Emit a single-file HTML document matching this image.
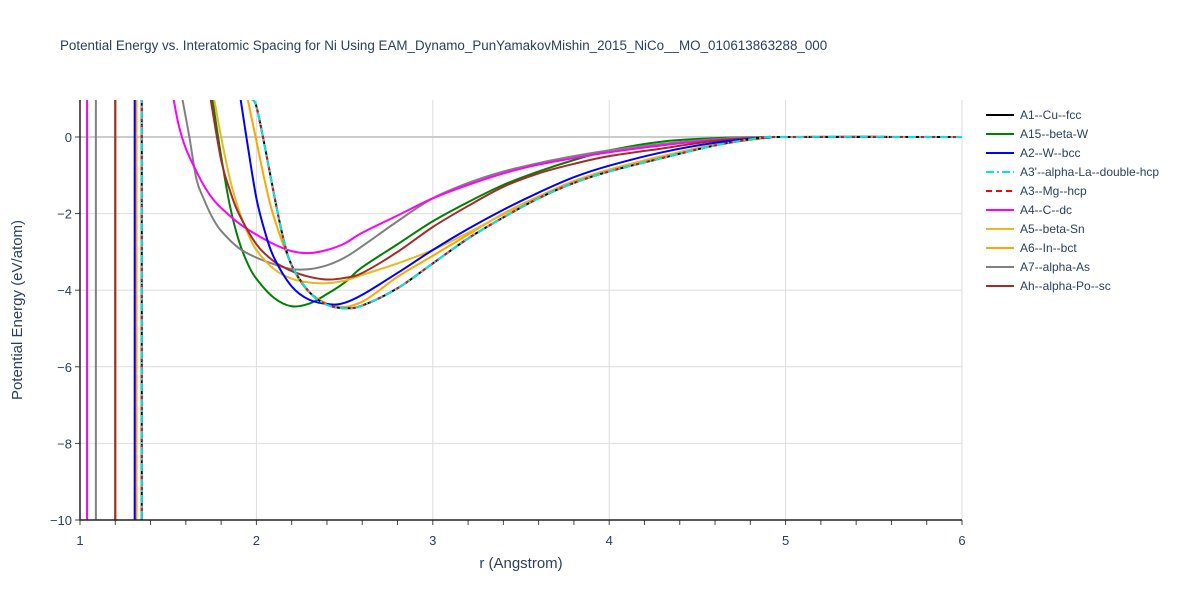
<!DOCTYPE html>
<html><head><meta charset="utf-8"><style>
body{margin:0;background:#fff;font-family:"Liberation Sans",sans-serif;}
svg text{font-family:"Liberation Sans",sans-serif;}
</style></head><body>
<svg id="chart" width="1200" height="600" xmlns="http://www.w3.org/2000/svg">
<rect width="1200" height="600" fill="#fff"/>
<text x="60" y="50" font-size="13.4" fill="#2a3f5f">Potential Energy vs. Interatomic Spacing for Ni Using EAM_Dynamo_PunYamakovMishin_2015_NiCo__MO_010613863288_000</text>
<defs><clipPath id="pc"><rect x="80" y="100" width="882" height="420"/></clipPath></defs>
<g id="grid"></g>
<g id="series" clip-path="url(#pc)"></g>
<g id="axes"></g>
<g id="legend"></g>
<text x="521" y="568" font-size="15" fill="#2a3f5f" text-anchor="middle">r (Angstrom)</text>
<text transform="translate(22,310) rotate(-90)" font-size="15" fill="#2a3f5f" text-anchor="middle">Potential Energy (eV/atom)</text>
</svg>
<script>
const xTicks=[1,2,3,4,5,6];
const yTicks=[0,-2,-4,-6,-8,-10];
const seriesNames=["A1--Cu--fcc","A15--beta-W","A2--W--bcc","A3'--alpha-La--double-hcp","A3--Mg--hcp","A4--C--dc","A5--beta-Sn","A6--In--bct","A7--alpha-As","Ah--alpha-Po--sc"];
const seriesColors=["#000000","#008000","#0000ff","#00e5e5","#ff0000","#ff00ff","#e8b820","#ffa500","#808080","#a52a2a"];
const seriesDash=["","","","8,3,2,3","6,4","","","","",""];
const wallR=[1.35,1.2,1.31,1.35,1.35,1.04,1.2,1.32,1.09,1.2];
const fccR=[1.97,2.0,2.05,2.1,2.15,2.2,2.3,2.4,2.5,2.6,2.8,3.0,3.2,3.4,3.6,3.8,4.0,4.3,4.6,4.85,5,6];
const fccE=[1,0.8,-0.3,-1.5,-2.6,-3.35,-4.05,-4.38,-4.47,-4.4,-3.95,-3.3,-2.65,-2.1,-1.6,-1.2,-0.9,-0.55,-0.22,-0.03,0,0];
const a15R=[1.75,1.8,1.85,1.9,1.95,2.0,2.1,2.2,2.3,2.4,2.5,2.6,2.8,3.0,3.2,3.4,3.6,3.8,4.0,4.3,4.6,5,6];
const a15E=[1,-0.5,-1.8,-2.7,-3.3,-3.7,-4.2,-4.42,-4.35,-4.1,-3.8,-3.4,-2.8,-2.2,-1.7,-1.25,-0.9,-0.6,-0.35,-0.12,-0.03,0,0];
const bccR=[1.91,1.95,2.0,2.05,2.1,2.2,2.3,2.42,2.5,2.6,2.8,3.0,3.2,3.4,3.6,3.8,4.0,4.3,4.6,4.9,5,6];
const bccE=[1,-0.2,-1.6,-2.5,-3.15,-3.9,-4.25,-4.37,-4.33,-4.12,-3.55,-2.95,-2.4,-1.9,-1.45,-1.05,-0.75,-0.4,-0.15,-0.01,0,0];
const dcR=[1.53,1.56,1.6,1.66,1.7,1.75,1.8,1.9,2.0,2.1,2.2,2.3,2.4,2.5,2.6,2.8,3.0,3.2,3.4,3.6,3.8,4.0,4.3,4.6,4.9,5,6];
const dcE=[1,0.3,-0.3,-0.9,-1.25,-1.6,-1.85,-2.25,-2.55,-2.8,-2.98,-3.03,-2.95,-2.78,-2.5,-2.05,-1.6,-1.25,-0.95,-0.72,-0.55,-0.4,-0.22,-0.08,-0.01,0,0];
const snR=[1.76,1.8,1.85,1.9,1.95,2.0,2.1,2.2,2.3,2.4,2.5,2.6,2.8,3.0,3.2,3.4,3.6,3.8,4.0,4.3,4.6,4.9,5,6];
const snE=[1,0,-1.1,-1.9,-2.5,-2.95,-3.45,-3.7,-3.8,-3.82,-3.75,-3.6,-3.3,-2.95,-2.5,-2.02,-1.58,-1.18,-0.87,-0.51,-0.21,-0.02,0,0];
const bctR=[1.95,2.0,2.05,2.1,2.2,2.3,2.45,2.6,2.8,3.0,3.2,3.4,3.6,3.8,4.0,4.3,4.6,4.9,5,6];
const bctE=[1,-0.1,-1.2,-2.1,-3.35,-4.05,-4.42,-4.3,-3.65,-3.1,-2.55,-2.0,-1.55,-1.15,-0.85,-0.5,-0.2,-0.02,0,0];
const asR=[1.58,1.62,1.66,1.7,1.75,1.8,1.9,2.0,2.1,2.2,2.3,2.4,2.5,2.6,2.8,3.0,3.2,3.4,3.6,3.8,4.0,4.3,4.6,4.9,6];
const asE=[1,0,-1.1,-1.6,-2.1,-2.45,-2.9,-3.15,-3.32,-3.45,-3.45,-3.35,-3.15,-2.85,-2.2,-1.6,-1.2,-0.9,-0.68,-0.5,-0.35,-0.18,-0.06,0,0];
const scR=[1.74,1.8,1.85,1.9,2.0,2.1,2.2,2.3,2.4,2.5,2.6,2.8,3.0,3.2,3.4,3.6,3.8,4.0,4.3,4.6,4.9,5,6];
const scE=[1,-0.6,-1.4,-2.0,-2.8,-3.25,-3.5,-3.65,-3.72,-3.68,-3.55,-3.0,-2.35,-1.8,-1.3,-0.95,-0.7,-0.5,-0.3,-0.1,-0.01,0,0];
const seriesR=[fccR,a15R,bccR,fccR,fccR,dcR,snR,bctR,asR,scR];
const seriesE=[fccE,a15E,bccE,fccE,fccE,dcE,snE,bctE,asE,scE];

const X0=80,X1=962,Y0=520,Y1=100;
const xScale=r=>X0+(r-1)/(6-1)*(X1-X0);
const yScale=e=>137+(-e)*(Y0-137)/10;
const NS="http://www.w3.org/2000/svg";
function mk(tag,attrs,parent){const el=document.createElementNS(NS,tag);for(const k in attrs)el.setAttribute(k,attrs[k]);parent.appendChild(el);return el;}
function smooth(pts){
  let d=`M${pts[0][0]},${pts[0][1]}`;
  for(let i=0;i<pts.length-1;i++){
    const p0=pts[Math.max(0,i-1)],p1=pts[i],p2=pts[i+1],p3=pts[Math.min(pts.length-1,i+2)];
    const c1x=p1[0]+(p2[0]-p0[0])/6,c1y=p1[1]+(p2[1]-p0[1])/6;
    const c2x=p2[0]-(p3[0]-p1[0])/6,c2y=p2[1]-(p3[1]-p1[1])/6;
    d+=`C${c1x},${c1y} ${c2x},${c2y} ${p2[0]},${p2[1]}`;
  }
  return d;
}
const grid=document.getElementById('grid'),axes=document.getElementById('axes'),ser=document.getElementById('series'),leg=document.getElementById('legend');
xTicks.forEach(t=>{
  const g=mk('line',{x1:xScale(t),x2:xScale(t),y1:Y1,y2:Y0,stroke:'#ddd','stroke-width':1},grid);
  
  
  const tx=mk('text',{x:xScale(t),y:Y0+25,'font-size':13,fill:'#2a3f5f','text-anchor':'middle'},axes);
  
  
  tx.textContent=t;
});
for(let t=1;t<=6.001;t+=0.2){
  const m=mk('line',{x1:xScale(t),x2:xScale(t),y1:Y0,y2:Y0+5,stroke:'#444','stroke-width':1},axes);
  
  
}
yTicks.forEach(t=>{
  const g=mk('line',{x1:X0,x2:X1,y1:yScale(t),y2:yScale(t),stroke:t===0?'#ccc':'#ddd','stroke-width':t===0?2:1},grid);
  
  
  const tx=mk('text',{x:X0-8,y:yScale(t)+5,'font-size':13,fill:'#2a3f5f','text-anchor':'end'},axes);
  
  
  tx.textContent=(t<0?'\u2212'+(-t):t);
  const m=mk('line',{x1:X0-5,x2:X0,y1:yScale(t),y2:yScale(t),stroke:'#444'},axes);
  
  
});
const ax=mk('path',{d:`M${X0},${Y1}V${Y0}H${X1}`,fill:'none',stroke:'#222','stroke-width':1.5},axes);


const order=[1,8,7,6,5,9,2,0,4,3];
order.forEach(i=>{
  const R=seriesR[i],E=seriesE[i];
  const wx=xScale(wallR[i]);
  const pts=R.map((r,k)=>[xScale(r),yScale(E[k])]);
  const d=`M${wx},${Y1-5}V${Y0+5}`+smooth(pts);
  const p=mk('path',{d:d,fill:'none',stroke:seriesColors[i],'stroke-width':2,'stroke-dasharray':seriesDash[i]},ser);
  
  
});
seriesNames.forEach((n,i)=>{
  const y=115+i*19;
  const l=mk('line',{x1:986,x2:1014,y1:y,y2:y,stroke:seriesColors[i],'stroke-width':2,'stroke-dasharray':seriesDash[i]},leg);
  
  
  const t=mk('text',{x:1020,y:y+4,'font-size':12,fill:'#2a3f5f'},leg);
  
  
  t.textContent=n;
});
</script>
</body></html>
